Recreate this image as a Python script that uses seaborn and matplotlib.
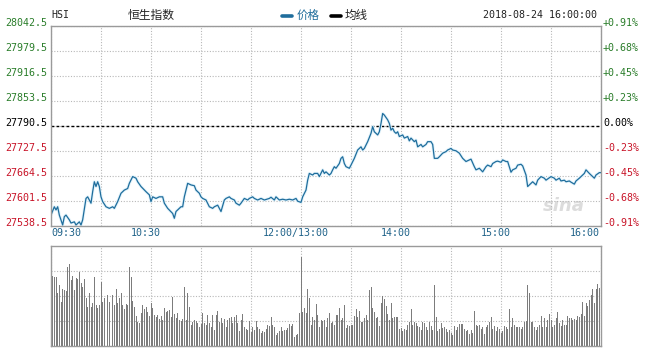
import matplotlib
matplotlib.use("Agg")
import numpy as np
import pandas as pd
import seaborn as sns
import matplotlib.pyplot as plt

# ---------------- data ----------------
prev_close = 27790.5
symbol = "HSI"
name = "恒生指数"
stamp = "2018-08-24 16:00:00"

# trading minutes since 09:30 (150 = 12:00/13:00, 330 = 16:00)
minute = [0, 2, 3, 4, 5, 7, 8, 9, 11, 12, 14, 15, 17, 18, 19, 21, 22, 24, 25, 26,
          27, 28, 29, 30, 31, 33, 35, 37, 38, 40, 42, 44, 46, 47, 49, 51, 52, 54, 57, 59,
          60, 61, 63, 65, 67, 68, 70, 73, 74, 75, 77, 78, 79, 80, 82, 84, 86, 87, 89, 90,
          91, 93, 95, 97, 98, 100, 101, 102, 104, 105, 107, 108, 110, 111, 113, 114, 116, 118, 119, 121,
          122, 124, 126, 128, 131, 132, 134, 135, 137, 139, 141, 143, 145, 147, 148, 150, 151, 153, 154, 155,
          157, 158, 160, 161, 163, 164, 165, 167, 168, 169, 170, 171, 173, 174, 175, 176, 177, 179, 180, 182,
          184, 186, 187, 188, 190, 192, 193, 194, 196, 197, 198, 199, 200, 202, 203, 204, 205, 206, 207, 208,
          209, 211, 212, 214, 215, 216, 218, 219, 220, 222, 223, 225, 226, 228, 229, 230, 232, 233, 235, 237,
          238, 240, 241, 243, 245, 247, 249, 251, 252, 254, 255, 257, 259, 261, 262, 264, 265, 267, 268, 270,
          271, 273, 274, 276, 277, 279, 280, 282, 283, 285, 286, 288, 289, 291, 292, 294, 296, 297, 299, 300,
          302, 303, 305, 306, 308, 309, 311, 312, 314, 315, 317, 318, 320, 321, 323, 324, 326, 327, 329, 330]
price = [27566, 27587, 27579, 27587, 27566, 27541, 27562, 27566, 27554, 27546, 27549, 27541, 27549, 27541, 27554, 27608, 27612, 27596, 27625, 27650,
         27638, 27650, 27638, 27612, 27600, 27587, 27583, 27587, 27583, 27600, 27621, 27629, 27633, 27646, 27663, 27659, 27650, 27638, 27625, 27617,
         27600, 27612, 27608, 27612, 27612, 27596, 27583, 27570, 27558, 27575, 27583, 27587, 27587, 27612, 27646, 27642, 27640, 27629, 27621, 27612,
         27608, 27604, 27587, 27583, 27587, 27591, 27583, 27575, 27604, 27608, 27612, 27608, 27604, 27596, 27591, 27596, 27608, 27604, 27608, 27612,
         27608, 27604, 27608, 27604, 27608, 27611, 27604, 27612, 27604, 27606, 27604, 27606, 27604, 27608, 27601, 27598, 27612, 27629, 27654, 27671,
         27667, 27671, 27671, 27663, 27680, 27671, 27675, 27667, 27671, 27680, 27688, 27684, 27696, 27709, 27713, 27696, 27688, 27684, 27692, 27709,
         27730, 27738, 27730, 27734, 27751, 27772, 27789, 27776, 27768, 27776, 27797, 27822, 27818, 27806, 27797, 27780, 27785, 27776, 27772, 27776,
         27764, 27768, 27760, 27764, 27753, 27760, 27751, 27755, 27738, 27744, 27738, 27744, 27751, 27751, 27744, 27709, 27709, 27713, 27722, 27726,
         27730, 27734, 27730, 27728, 27722, 27709, 27701, 27705, 27707, 27688, 27680, 27684, 27675, 27688, 27692, 27688, 27696, 27701, 27702, 27699,
         27705, 27701, 27701, 27674, 27680, 27684, 27692, 27694, 27690, 27667, 27638, 27646, 27650, 27642, 27654, 27663, 27659, 27654, 27660, 27663,
         27659, 27654, 27659, 27652, 27654, 27650, 27652, 27649, 27644, 27652, 27659, 27663, 27671, 27680, 27671, 27667, 27659, 27667, 27673, 27673]

# per-minute volume (relative units, panel top = 100)
volume = [81, 70, 69, 69, 53, 61, 44, 57, 56, 55, 79, 82, 66, 70, 56, 68, 67, 74, 63, 59,
          67, 48, 39, 53, 39, 43, 69, 41, 38, 41, 64, 44, 48, 53, 51, 44, 34, 51, 41, 57,
          43, 48, 53, 41, 37, 42, 41, 79, 69, 45, 39, 30, 24, 23, 33, 41, 37, 39, 34, 30,
          43, 38, 31, 29, 31, 27, 30, 26, 38, 34, 35, 36, 29, 49, 32, 28, 33, 26, 25, 27,
          59, 26, 53, 39, 21, 24, 26, 25, 23, 19, 22, 33, 23, 21, 31, 23, 19, 31, 16, 31,
          35, 24, 28, 23, 27, 19, 26, 28, 29, 23, 29, 31, 23, 15, 26, 32, 19, 17, 16, 25,
          14, 19, 16, 25, 19, 17, 13, 15, 14, 17, 21, 20, 29, 21, 19, 11, 13, 15, 19, 15,
          16, 16, 18, 22, 20, 22, 9, 11, 12, 33, 89, 34, 38, 33, 57, 48, 21, 29, 26, 42,
          31, 19, 26, 25, 26, 19, 28, 33, 23, 24, 21, 31, 31, 38, 26, 28, 41, 18, 21, 20,
          21, 21, 30, 37, 29, 35, 24, 24, 28, 31, 26, 56, 59, 38, 34, 28, 29, 20, 43, 50,
          47, 40, 32, 26, 43, 28, 29, 29, 29, 17, 18, 15, 17, 16, 21, 24, 37, 21, 24, 23,
          20, 19, 16, 24, 23, 19, 16, 24, 20, 16, 61, 29, 15, 17, 23, 18, 19, 17, 14, 16,
          13, 11, 20, 16, 19, 22, 22, 22, 17, 15, 16, 12, 16, 13, 35, 21, 20, 21, 17, 19,
          12, 19, 21, 24, 29, 17, 20, 15, 19, 17, 13, 15, 20, 19, 17, 37, 19, 28, 21, 19,
          19, 19, 17, 19, 24, 25, 61, 53, 24, 24, 19, 16, 19, 21, 30, 19, 28, 19, 26, 32,
          26, 19, 21, 28, 34, 23, 20, 26, 21, 21, 30, 28, 28, 26, 27, 26, 30, 29, 32, 44,
          30, 43, 40, 46, 51, 57, 43, 57, 62, 58, 75]
vol_minute = list(range(len(volume)))

ytick_prices = [27538.5, 27601.5, 27664.5, 27727.5, 27790.5, 27853.5, 27916.5, 27979.5, 28042.5]
xtick_minutes = [0, 60, 150, 210, 270, 330]
xtick_labels = ["09:30", "10:30", "12:00/13:00", "14:00", "15:00", "16:00"]
legend_labels = ["价格", "均线"]

# ---------------- style ----------------
sns.set_style("white")
plt.rcParams["font.family"] = ["DejaVu Sans Mono", "Noto Sans CJK SC"]

W, H = 648, 351
fig = plt.figure(figsize=(W / 100, H / 100), dpi=100)
ax = fig.add_axes([51 / W, 1 - 226 / H, 550 / W, 200 / H])
axv = fig.add_axes([51 / W, 1 - 346 / H, 550 / W, 100 / H])

LINE = "#1f6d9c"
GREEN = "#2a7d2a"
RED = "#c81428"
GRID = "#b8b8b8"
SPINE = "#9a9a9a"

df = pd.DataFrame({"minute": minute, "price": price})
sns.lineplot(data=df, x="minute", y="price", ax=ax, color="#e2f3fb", linewidth=2.2)
sns.lineplot(data=df, x="minute", y="price", ax=ax, color=LINE, linewidth=0.9)

vdf = pd.DataFrame({"minute": vol_minute, "volume": volume})
sns.barplot(data=vdf, x="minute", y="volume", ax=axv, native_scale=True,
            color="#7c7c7c", saturation=1, width=0.6, errorbar=None, linewidth=0)

for a in (ax, axv):
    a.set_xlim(0, 330)
    a.set_xticks(range(0, 331, 30))
    a.set_xticklabels([])
    a.set_xlabel("")
    a.set_ylabel("")
    a.tick_params(length=0, labelleft=False, labelbottom=False)
    a.grid(True, color=GRID, linestyle=(0, (1, 1.5)), linewidth=0.8)
    for s in a.spines.values():
        s.set_color(SPINE)
        s.set_linewidth(1)
        s.set_visible(True)
    a.set_axisbelow(True)

ax.set_ylim(ytick_prices[0], ytick_prices[-1])
ax.set_yticks(ytick_prices)
ax.set_yticklabels([])
axv.set_ylim(0, 100)
axv.set_yticks([25, 50, 75])
axv.set_yticklabels([])

ax.axhline(prev_close, color="black", linestyle=(0, (2, 1.6)), linewidth=1.0, zorder=1.5)

# y labels (left prices, right percentages)
for p in ytick_prices:
    col = GREEN if p > prev_close else (RED if p < prev_close else "black")
    pct = (p - prev_close) / prev_close * 100
    pct_txt = ("+%.2f%%" % pct) if pct > 0.0001 else ("%.2f%%" % pct if pct < -0.0001 else "0.00%")
    ax.annotate("%.1f" % p, xy=(0, p), xycoords=ax.get_yaxis_transform(),
                xytext=(-4, 3), textcoords="offset pixels", ha="right", va="center",
                fontsize=7.2, color=col, annotation_clip=False)
    ax.annotate(pct_txt, xy=(1, p), xycoords=ax.get_yaxis_transform(),
                xytext=(2, 3), textcoords="offset pixels", ha="left", va="center",
                fontsize=7.2, color=col, annotation_clip=False)

# x labels
for m, lab in zip(xtick_minutes, xtick_labels):
    if m == 0:
        ha, dx = "left", 0
    elif m == 330:
        ha, dx = "right", -1
    else:
        ha, dx = "center", -5
    ax.annotate(lab, xy=(m, 0), xycoords=ax.get_xaxis_transform(),
                xytext=(dx, -2), textcoords="offset pixels", ha=ha, va="top",
                fontsize=7.2, color="#1f6289", annotation_clip=False)

# header
def px(x, y):
    return x / W, 1 - y / H

fig.text(*px(51, 15), symbol, fontsize=7.2, va="center", ha="left", color="#222222")
fig.text(*px(151, 15), name, fontsize=8.5, va="center", ha="center", color="#222222",
         family=["Noto Sans CJK SC", "DejaVu Sans"])
fig.add_artist(plt.Line2D([282 / W, 292 / W], [1 - 16 / H, 1 - 16 / H], color=LINE, linewidth=2.6))
fig.text(*px(297, 15), legend_labels[0], fontsize=8.3, va="center", ha="left", color=LINE,
         family=["Noto Sans CJK SC", "DejaVu Sans"])
fig.add_artist(plt.Line2D([331 / W, 341 / W], [1 - 16 / H, 1 - 16 / H], color="black", linewidth=2.6))
fig.text(*px(345, 15), legend_labels[1], fontsize=8.3, va="center", ha="left", color="#222222",
         family=["Noto Sans CJK SC", "DejaVu Sans"])
fig.text(*px(597, 15), stamp, fontsize=7.2, va="center", ha="right", color="#222222")

# watermark
ax.text(0.97, 0.1, "sina", transform=ax.transAxes, ha="right", va="center",
        fontsize=13, fontstyle="italic", fontweight="bold", color="#dcdcdc",
        family=["DejaVu Sans"], zorder=0.5)

fig.savefig("out.png", dpi=100)
